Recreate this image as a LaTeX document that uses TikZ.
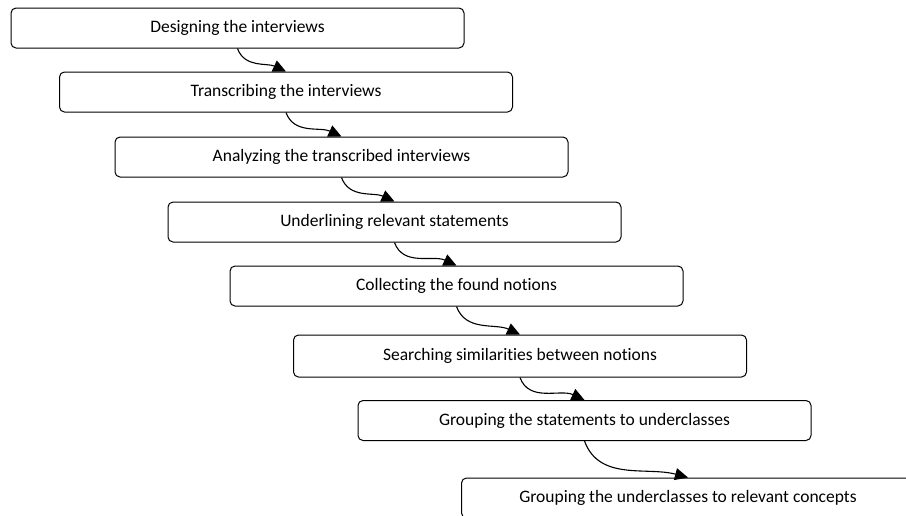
\documentclass[tikz,border=0pt]{standalone}
\usepackage{fontspec}
\setmainfont[Ligatures=NoCommon]{Carlito}
\usepackage{tikz}
\usetikzlibrary{arrows.meta, positioning}

\begin{document}
\begin{tikzpicture}[x=1pt, y=-1pt,
		stepbox/.style={draw, line width=1pt, rounded corners=5pt, minimum width=453pt, minimum height=40pt, inner sep=0pt, font=\fontsize{17.5}{20}\selectfont},
		flow/.style={line width=1.1pt, -{Triangle[length=13pt, width=12pt]}}]
				\useasboundingbox (0, 0) rectangle (906, 515);

				\node[stepbox] (design) at (237.5, 28) {Designing the interviews};
				\node[stepbox] (transcribe) at (286, 92) {Transcribing the interviews};
				\node[stepbox] (analyze) at (341.5, 157) {Analyzing the transcribed interviews};
				\node[stepbox] (underline) at (394.5, 222) {Underlining relevant statements};
				\node[stepbox] (collect) at (456.5, 286) {Collecting the found notions};
				\node[stepbox, minimum height=42pt] (search) at (520, 356) {Searching similarities between notions};
				\node[stepbox] (group) at (584.5, 420.5) {Grouping the statements to underclasses};
				\node[stepbox] (concepts) at (688, 498) {Grouping the underclasses to relevant concepts};

				\draw[flow] (design.south) to[out=-70, in=155] (transcribe.north);
				\draw[flow] (transcribe.south) to[out=-70, in=155] (analyze.north);
				\draw[flow] (analyze.south) to[out=-70, in=155] (underline.north);
				\draw[flow] (underline.south) to[out=-70, in=155] (collect.north);
				\draw[flow] (collect.south) to[out=-70, in=155] (search.north);
				\draw[flow] (search.south) to[out=-70, in=155] (group.north);
				\draw[flow] (group.south) to[out=-70, in=165] (concepts.north);
			\end{tikzpicture}
\end{document}
